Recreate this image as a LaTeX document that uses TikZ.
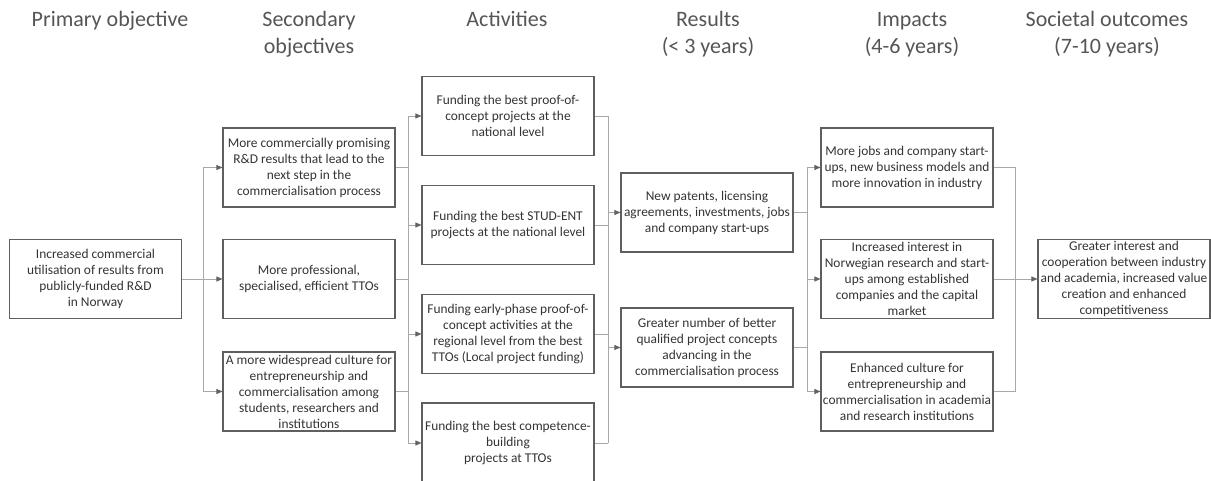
\documentclass[tikz,border=0pt]{standalone}
\usepackage{fontspec}
\setmainfont{Carlito}
\usetikzlibrary{arrows.meta}
\definecolor{boxline}{HTML}{5F5F5F}
\definecolor{connline}{HTML}{A8A8A8}
\definecolor{tipcol}{HTML}{636363}
\definecolor{txt}{HTML}{333333}
\definecolor{headtxt}{HTML}{555555}
\begin{document}
\begin{tikzpicture}[x=1pt,y=-1pt,
  box/.style={draw=boxline, line width=1.1pt, text=txt,
    font=\fontsize{13.4}{16}\selectfont, align=center,
    inner xsep=0pt, inner ysep=0pt,
    minimum width=172pt, minimum height=79pt},
  head/.style={text=headtxt, font=\fontsize{22}{27}\selectfont,
    align=center, anchor=base},
  conn/.style={draw=connline, line width=0.9pt},
  arr/.style={conn, -{Triangle[length=6pt,width=5pt,color=tipcol]}}]
\useasboundingbox (0,0) rectangle (1211,481);
\clip (0,0) rectangle (1211,481);

% headers (base anchor = baseline of the last line)
\node[head] (h1) at (110,27) {Primary objective};
\node[head] (h2) at (309,54) {Secondary\\objectives};
\node[head] (h3) at (507,27) {Activities};
\node[head] (h4) at (708,54) {Results\\(< 3 years)};
\node[head] (h5) at (912,54) {Impacts\\(4-6 years)};
\node[head] (h6) at (1107,54) {Societal outcomes\\(7-10 years)};

% boxes
\node[box] (P) at (95.5,279) {Increased commercial\\utilisation of results from\\publicly-funded R\&D\\in Norway};

\node[box] (S1) at (309,167.5) {More commercially promising\\R\&D results that lead to the\\next step in the\\commercialisation process};
\node[box] (S2) at (309,279) {More professional,\\specialised, efficient TTOs};
\node[box] (S3) at (309,391.5) {A more widespread culture for\\entrepreneurship and\\commercialisation among\\students, researchers and\\institutions};

\node[box] (A1) at (508,116) {Funding the best proof-of-\\concept projects at the\\national level};
\node[box] (A2) at (508,225) {Funding the best STUD-ENT\\projects at the national level};
\node[box] (A3) at (508,334) {Funding early-phase proof-of-\\concept activities at the\\regional level from the best\\TTOs (Local project funding)};
\node[box, minimum height=80pt] (A4) at (508,443) {Funding the best competence-\\building\\projects at TTOs};

\node[box] (R1) at (707,212.5) {New patents, licensing\\agreements, investments, jobs\\and company start-ups};
\node[box] (R2) at (707,347.5) {Greater number of better\\qualified project concepts\\advancing in the\\commercialisation process};

\node[box] (I1) at (907,167.5) {More jobs and company start-\\ups, new business models and\\more innovation in industry};
\node[box] (I2) at (907,279) {Increased interest in\\Norwegian research and start-\\ups among established\\companies and the capital\\market};
\node[box] (I3) at (907,391.5) {Enhanced culture for\\entrepreneurship and\\commercialisation in academia\\and research institutions};

\node[box] (O) at (1124,279) {Greater interest and\\cooperation between industry\\and academia, increased value\\creation and enhanced\\competitiveness};

% bus x positions
\coordinate (b1) at (203,0);
\coordinate (b2) at (408,0);
\coordinate (b3) at (608,0);
\coordinate (b4) at (807,0);
\coordinate (b5) at (1015,0);

% primary -> secondary
\draw[conn] (P.east) -- (P.east -| b1);
\draw[arr] (P.east -| b1) |- (S1.west);
\draw[arr] (P.east -| b1) -- (S2.west);
\draw[arr] (P.east -| b1) |- (S3.west);

% secondary -> activities
\draw[conn] (S1.east) -- (S1.east -| b2);
\draw[conn] (S2.east) -- (S2.east -| b2);
\draw[conn] (S3.east) -- (S3.east -| b2);
\draw[conn] (A1.west -| b2) -- (A4.west -| b2);
\draw[arr] (A1.west -| b2) -- (A1.west);
\draw[arr] (A2.west -| b2) -- (A2.west);
\draw[arr] (A3.west -| b2) -- (A3.west);
\draw[arr] (A4.west -| b2) -- (A4.west);

% activities -> results
\draw[conn] (A1.east) -- (A1.east -| b3);
\draw[conn] (A2.east) -- (A2.east -| b3);
\draw[conn] (A3.east) -- (A3.east -| b3);
\draw[conn] (A4.east) -- (A4.east -| b3);
\draw[conn] (A1.east -| b3) -- (A4.east -| b3);
\draw[arr] (R1.west -| b3) -- (R1.west);
\draw[arr] (R2.west -| b3) -- (R2.west);

% results -> impacts
\draw[conn] (R1.east) -- (R1.east -| b4);
\draw[conn] (R2.east) -- (R2.east -| b4);
\draw[conn] (I1.west -| b4) -- (I3.west -| b4);
\draw[arr] (I1.west -| b4) -- (I1.west);
\draw[arr] (I2.west -| b4) -- (I2.west);
\draw[arr] (I3.west -| b4) -- (I3.west);

% impacts -> societal outcomes
\draw[conn] (I1.east) -- (I1.east -| b5);
\draw[conn] (I2.east) -- (I2.east -| b5);
\draw[conn] (I3.east) -- (I3.east -| b5);
\draw[conn] (I1.east -| b5) -- (I3.east -| b5);
\draw[arr] (O.west -| b5) -- (O.west);
\end{tikzpicture}
\end{document}
